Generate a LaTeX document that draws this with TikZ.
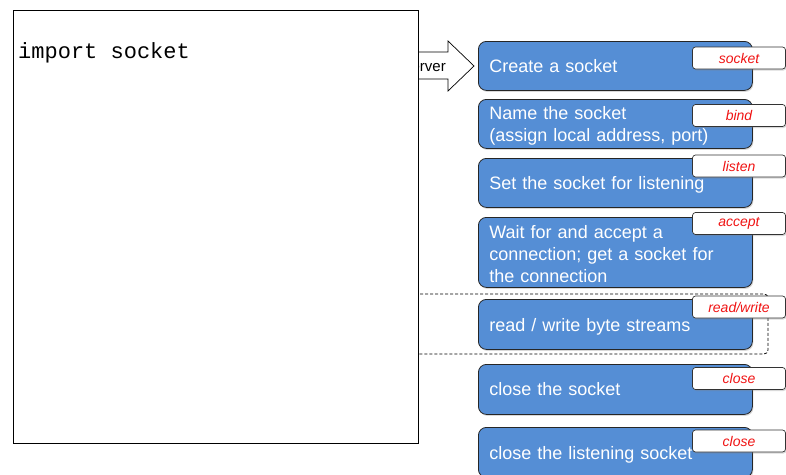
\documentclass[tikz,border=0pt]{standalone}
\usepackage{fontspec}
\setmainfont{Liberation Sans}
\newfontfamily\codefont{Liberation Mono}
\usetikzlibrary{shadows}
\definecolor{stepblue}{RGB}{85,142,213}
\definecolor{tagred}{RGB}{240,20,20}
\begin{document}
\begin{tikzpicture}[x=1pt,y=-1pt,
  stepbox/.style={draw=black!85, line width=0.8pt, fill=stepblue, rounded corners=8pt,
    minimum width=274pt, minimum height=#1, text width=252pt, align=left,
    inner xsep=11pt, inner ysep=0pt, text=white, font=\fontsize{18}{22}\selectfont,
    anchor=north west, drop shadow={opacity=0.3, shadow xshift=1pt, shadow yshift=-1.5pt}},
  stepbox/.default=50pt,
  lowered/.style={execute at begin node={\rule{0pt}{17pt}}},
  tag/.style={draw=black!80, line width=0.7pt, fill=white, rounded corners=3pt,
    minimum width=93pt, minimum height=22pt, inner sep=0pt, text=tagred,
    font=\fontsize{14}{16}\selectfont\itshape,
    drop shadow={opacity=0.3, shadow xshift=1pt, shadow yshift=-1.5pt}}]
\useasboundingbox (0,0) rectangle (786,474);

% block arrow (partly hidden behind the code box)
\draw[line width=0.7pt, fill=white] (300,52) -- (448,52) -- (448,41) -- (474,66)
  -- (448,91) -- (448,79) -- (300,79) -- cycle;
\node[font=\fontsize{15}{17}\selectfont, anchor=base east, inner sep=0pt] (srv) at (446,71) {server};

% dashed group around read/write
\draw[dashed, dash pattern=on 3pt off 2pt, line width=0.8pt, rounded corners=4pt]
  (300,294) -- (768,294) -- (768,354) -- (300,354);

% code box
\node[draw, line width=1.4pt, fill=white, minimum width=405pt, minimum height=433pt,
  anchor=north west, inner sep=0pt] (code) at (13,10) {};
\node[font=\codefont\fontsize{22}{24}\selectfont, anchor=base west, inner sep=0pt] (imp) at (18,58) {import socket};

% steps
\node[stepbox=49pt] (s1) at (478,41) {Create a socket};
\node[stepbox=49pt, lowered] (s2) at (478,99) {Name the socket\\(assign local address, port)};
\node[stepbox=49pt, lowered] (s3) at (478,158) {Set the socket for listening};
\node[stepbox=70pt, lowered] (s4) at (478,217) {Wait for and accept a\\connection; get a socket for\\the connection};
\node[stepbox=50pt, lowered] (s5) at (478,299) {read / write byte streams};
\node[stepbox=50pt] (s6) at (478,364) {close the socket};
\node[stepbox=50pt, lowered] (s7) at (478,427) {close the listening socket};

% tags
\node[tag] (t1) at (739,58) {socket};
\node[tag] (t2) at (739,115.5) {bind};
\node[tag] (t3) at (739,166) {listen};
\node[tag] (t4) at (739,223.5) {accept};
\node[tag] (t5) at (739,307) {read/write};
\node[tag] (t6) at (739,378.5) {close};
\node[tag] (t7) at (739,441) {close};
\end{tikzpicture}
\end{document}
